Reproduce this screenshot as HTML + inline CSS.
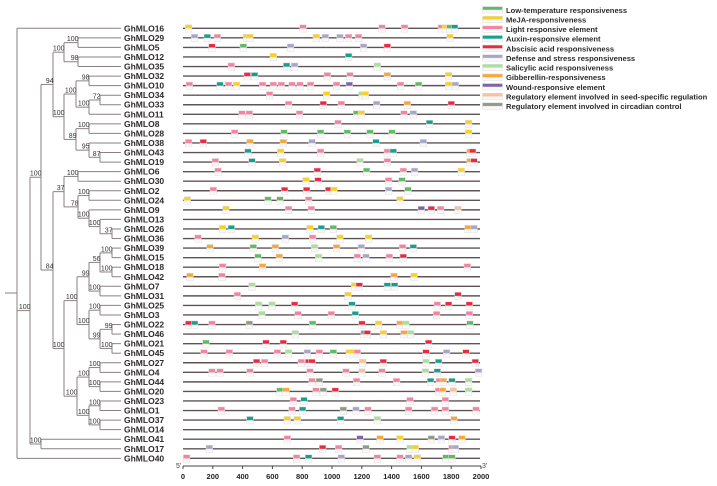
<!DOCTYPE html>
<html><head><meta charset="utf-8"><style>
html,body{margin:0;padding:0;background:#fff;width:717px;height:486px;overflow:hidden}
svg text{font-family:"Liberation Sans",sans-serif}
</style></head><body>
<svg id="s" width="717" height="486" xmlns="http://www.w3.org/2000/svg">
<defs></defs>
</svg>
<script>
const S=document.getElementById('s');const NS='http://www.w3.org/2000/svg';
function el(t,a,txt){const e=document.createElementNS(NS,t);for(const k in a)e.setAttribute(k,a[k]);if(txt!=null)e.textContent=txt;S.appendChild(e);return e;}
const C={g:'#5dbb63',y:'#f7d21e',p:'#f4839f',t:'#13a08f',r:'#ea2840',v:'#a6a6c8',l:'#a9e09a',o:'#f7a83a',w:'#7a66a6',s:'#f9c29a',c:'#8c9c86'};
const defs=S.querySelector('defs');
for(const k in C){const lg=document.createElementNS(NS,'linearGradient');lg.setAttribute('id','G'+k);lg.setAttribute('x1',0);lg.setAttribute('y1',0);lg.setAttribute('x2',0);lg.setAttribute('y2',1);
[[0,C[k]],[0.45,C[k]],[0.55,'#f6f0f2'],[1,'#ffffff']].forEach(([o,c])=>{const st=document.createElementNS(NS,'stop');st.setAttribute('offset',o);st.setAttribute('stop-color',c);lg.appendChild(st);});defs.appendChild(lg);}
const rows=['16','29','5','12','35','32','10','34','33','11','8','28','38','43','19','6','30','2','24','9','13','26','36','39','15','18','42','7','31','25','3','22','46','21','45','27','4','44','20','23','1','37','14','41','17','40'];
function Y(i){return 28.3+9.556*i;}
// gene lines
rows.forEach((r,i)=>{el('line',{x1:183,x2:480,y1:Y(i),y2:Y(i),stroke:'#5e5456','stroke-width':1.4});
el('text',{x:124,y:Y(i)+3,'font-size':8.5,'font-weight':'bold',fill:'#2e2a2b'},'GhMLO'+r);});
// boxes: rows with [z,color], x=off+z/3
const B=[
'22y 365p 602p 670p 780p 792y 806g 820t',
'40v 78t 108p 196y 206y 405y 432v 476v 502p 532p 806y',
'92r 186g 328v 547v 618r',
'276y 502t',
'150p 316t 340v 588l',
'198r 220t 438p 506p 618o 802y',
'24p 116t 142p 166y 244p 276p 300p 332p 356p 388p 466p 504w 658p 712g 802y 822v',
'265p 436y 542l 552y',
'322p 426r 480p 586v 678o 810r',
'182p 204p 355p 526g 540y 668p 696v',
'470p 745t 862y',
'160p 308g 418g 498g 566g 632g 862y',
'22p 66r 206o 306o 392v 584t 726v',
'200t 298y 418p 618p 636t 866o 874r',
'102p 212t 304y 536l 618p 866o 878r',
'110p 408r 556g 666p 700v 840y',
'374y 410r 622p 662g',
'96p 310r 376r 442r 458y 622v 680g',
'18y 260g 296g 382p 656y',
'134y 322p 390p 720w 750r 778p 830s',
'',
'124y 150t 386y 420t 456g 860o 878v',
'50p 222y 312v 394p 476y 562y',
'86o 216g 282o 400l 466o 540v 664p 696t',
'230g 294o 412l 528p 554v 624p 666r',
'124p 244o 858p',
'26o 122p 638o 698y',
'212l 520y 534r 618t 640t',
'168p 500y 830r',
'232l 272l 340r 512t 768p 802r 864r',
'242l 350p 450p 522t 766p 864p',
'22r 40t 92p 204c 394g 542r 592y 656o 674l 866g',
'342l 548c 558r 606y 668o 688l',
'74g 254r 306r 742r',
'68p 144p 288p 322l 378v 414p 456g 504y 516y 528p 734r 796v 854r',
'226r 250p 360p 382r 392r 544s 606r 734l 772t 882r',
'92p 116p 206p 386p 494p 542s 602p 732l 768t 892v',
'392p 414c 526p 646p 748t 774p 786o 812t 862l',
'296g 314o 404p 426c 462r 772p 784o 816s 862l',
'336p 368t 686p 792p',
'120p 332p 364t 486c 524v 560p 682p 760p 792p 884p',
'206t 318y 348y 478t 588l 818o',
'',
'342p 560w 620o 680y 774c 804v 836r 866o',
'108v 448r 496p 578c 710l 726y 836p 846v',
'40p 370p 406t 504v 612p 680p 706v 732y 818g 836g'];
B.forEach((s,i)=>{if(!s)return;const off=i>=43?170:178;s.split(' ').forEach(t=>{const z=parseFloat(t),c=t.slice(-1);const x=off+z/3;
el('rect',{x:x,y:Y(i)-3.6,width:6.6,height:7.4,fill:'url(#G'+c+')',stroke:'#e2dcdf','stroke-width':0.5});});});
// axis
el('line',{x1:183,x2:481,y1:466,y2:466,stroke:'#444','stroke-width':1});
for(let k=0;k<=10;k++){const x=183+k*29.8;el('line',{x1:x,x2:x,y1:466,y2:469,stroke:'#444','stroke-width':1});
el('text',{x:x,y:479,'font-size':7.5,'font-weight':'bold','text-anchor':'middle',fill:'#222'},String(k*200));}
el('text',{x:176,y:468,'font-size':7,fill:'#444'},"5'");
el('text',{x:482,y:468,'font-size':7,fill:'#444'},"3'");
// legend
const L=[['g','Low-temperature responsiveness'],['y','MeJA-responsiveness'],['p','Light responsive element'],['t','Auxin-responsive element'],['r','Abscisic acid responsiveness'],['v','Defense and stress responsiveness'],['l','Salicylic acid responsiveness'],['o','Gibberellin-responsiveness'],['w','Wound-responsive element'],['s','Regulatory element involved in seed-specific regulation'],['c','Regulatory element involved in circadian control']];
L.forEach(([c,t],i)=>{const y=9.8+i*9.62;el('rect',{x:482.5,y:y-3.2,width:20,height:6.4,fill:'url(#G'+c+')',stroke:'#ddd','stroke-width':0.5});
el('text',{x:506,y:y+3,'font-size':7.6,'font-weight':'bold',fill:'#2a2a2a'},t);});
// tree
function N(x,lab,...c){return {x,lab,c};}
const T=N(17,'','16',
 N(30,'100',
  N(41,'100',
   N(53,'94',
    N(64,'100',N(78,'100','29','5'),N(78,'98','12','35')),
    N(64,'100',
     N(76,'100',N(89,'98','32','10'),N(89,'100',N(100,'72','34','33'),'11')),
     N(76,'89',N(89,'100','8','28'),N(89,'95','38',N(100,'87','43','19'))))),
   N(53,'84',
    N(64,'37',N(78,'100','6','30'),N(78,'78',N(89,'100','2','24'),N(89,'100','9',N(100,'100','13',N(112,'37','26','36'))))),
    N(64,'100',
     N(77,'100',
      N(89,'99',N(100,'56',N(112,'100','39','15'),N(112,'100','18','42')),N(100,'100','7','31')),
      N(89,'100',N(100,'100','25','3'),N(100,'99',N(112,'99','22','46'),N(112,'100','21','45')))),
     N(77,'100',
      N(89,'100',N(100,'100','27','4'),N(100,'100','44','20')),
      N(89,'100',N(100,'100','23','1'),N(100,'100','37','14')))))),
  N(41,'100','41','17')),
 '40');
const TC='#8a8082';
function draw(n){if(typeof n==='string'){return {y:Y(rows.indexOf(n)),x:121};}
 const ch=n.c.map(draw);const ys=ch.map(c=>c.y);const y0=Math.min(...ys),y1=Math.max(...ys);
 el('line',{x1:n.x,x2:n.x,y1:y0,y2:y1,stroke:TC,'stroke-width':1});
 ch.forEach(c=>el('line',{x1:n.x,x2:c.x,y1:c.y,y2:c.y,stroke:TC,'stroke-width':1}));
 ch.forEach(c=>{if(c.lab)el('text',{x:c.x+0.5,y:c.y-1.5,'font-size':7,'text-anchor':'end',fill:'#333'},c.lab);});
 const y=(ys[0]+ys[ys.length-1])/2;return {x:n.x,y:y,lab:n.lab};}
draw(T);
el('line',{x1:5,x2:17,y1:293,y2:293,stroke:TC,'stroke-width':1});
</script>
</body></html>
